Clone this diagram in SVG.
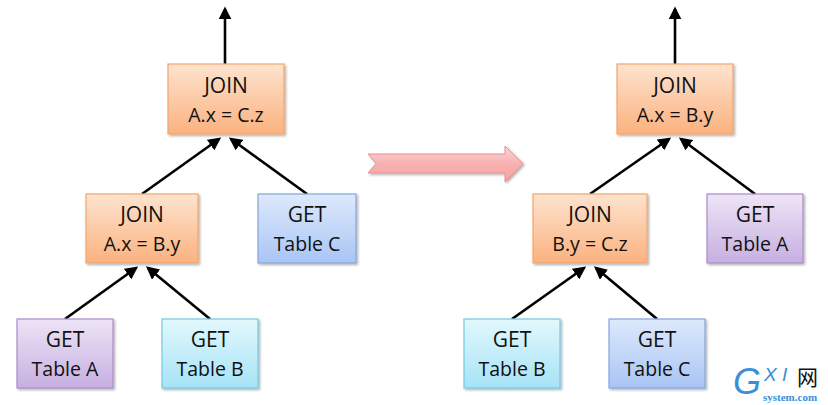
<svg xmlns="http://www.w3.org/2000/svg" width="828" height="405" viewBox="0 0 828 405">
<style>
.box{stroke-width:1.2}
.t{font-family:"Open Sans","Liberation Sans",sans-serif;fill:#111;text-anchor:middle}
.t1{font-size:21px}
.t2{font-size:19.5px}
.c{stroke:#000;stroke-width:2.6;fill:none;marker-end:url(#ah)}
</style>
<defs>
<marker id="ah" markerWidth="5" markerHeight="5" refX="4" refY="2.5" orient="auto" markerUnits="strokeWidth">
<path d="M0,0 L5,2.5 L0,5 z" fill="#000"/>
</marker>
<linearGradient id="gO" x1="0" y1="0" x2="0" y2="1"><stop offset="0" stop-color="#fde3cf"/><stop offset="1" stop-color="#fbb27f"/></linearGradient>
<linearGradient id="gB" x1="0" y1="0" x2="0" y2="1"><stop offset="0" stop-color="#dde9fc"/><stop offset="1" stop-color="#a9c5f5"/></linearGradient>
<linearGradient id="gP" x1="0" y1="0" x2="0" y2="1"><stop offset="0" stop-color="#eee4f6"/><stop offset="1" stop-color="#c6afe2"/></linearGradient>
<linearGradient id="gC" x1="0" y1="0" x2="0" y2="1"><stop offset="0" stop-color="#e2f8fd"/><stop offset="1" stop-color="#a6e3f6"/></linearGradient>
<linearGradient id="gR" x1="0" y1="0" x2="0" y2="1"><stop offset="0" stop-color="#fcd6d6"/><stop offset="0.5" stop-color="#f8b0b0"/><stop offset="1" stop-color="#f7a3a3"/></linearGradient>
<filter id="sh" x="-10%" y="-10%" width="130%" height="130%"><feDropShadow dx="1.5" dy="1.5" stdDeviation="1.2" flood-color="#000" flood-opacity="0.3"/></filter>
</defs>
<rect width="828" height="405" fill="#fff"/>

<g id="connectors">
<line class="c" x1="225" y1="64" x2="225" y2="9"/>
<line class="c" x1="142" y1="194" x2="219" y2="139"/>
<line class="c" x1="307" y1="194" x2="231" y2="139"/>
<line class="c" x1="65" y1="319" x2="136" y2="268"/>
<line class="c" x1="210" y1="319" x2="148" y2="268"/>
<line class="c" x1="675" y1="64" x2="675" y2="9"/>
<line class="c" x1="590" y1="194" x2="669" y2="139"/>
<line class="c" x1="755" y1="194" x2="681" y2="139"/>
<line class="c" x1="512" y1="319" x2="584" y2="268"/>
<line class="c" x1="657" y1="319" x2="596" y2="268"/>
</g>

<g id="transform-arrow">
<path d="M368,154 L505,154 L505,146 L523,163.5 L505,182 L505,173 L368,173 L376,163.5 Z" fill="url(#gR)" stroke="#e89090" stroke-width="1" filter="url(#sh)"/>
</g>

<g id="L-join1">
<rect class="box" x="168" y="64" width="116" height="70" fill="url(#gO)" stroke="#f2a66c" filter="url(#sh)"/>
<text class="t t1" x="226" y="93">JOIN</text>
<text class="t t2" x="226" y="122">A.x = C.z</text>
</g>
<g id="L-join2">
<rect class="box" x="86" y="194" width="112" height="69" fill="url(#gO)" stroke="#f2a66c" filter="url(#sh)"/>
<text class="t t1" x="142" y="222">JOIN</text>
<text class="t t2" x="142" y="251">A.x = B.y</text>
</g>
<g id="L-getC">
<rect class="box" x="258" y="194" width="98" height="69" fill="url(#gB)" stroke="#84a6dc" filter="url(#sh)"/>
<text class="t t1" x="307" y="222">GET</text>
<text class="t t2" x="307" y="251">Table C</text>
</g>
<g id="L-getA">
<rect class="box" x="17" y="319" width="96" height="69" fill="url(#gP)" stroke="#a88cc8" filter="url(#sh)"/>
<text class="t t1" x="65" y="347">GET</text>
<text class="t t2" x="65" y="376">Table A</text>
</g>
<g id="L-getB">
<rect class="box" x="162" y="319" width="96" height="69" fill="url(#gC)" stroke="#76c8e2" filter="url(#sh)"/>
<text class="t t1" x="210" y="347">GET</text>
<text class="t t2" x="210" y="376">Table B</text>
</g>

<g id="R-join1">
<rect class="box" x="617" y="64" width="116" height="70" fill="url(#gO)" stroke="#f2a66c" filter="url(#sh)"/>
<text class="t t1" x="675" y="93">JOIN</text>
<text class="t t2" x="675" y="122">A.x = B.y</text>
</g>
<g id="R-join2">
<rect class="box" x="533" y="194" width="114" height="69" fill="url(#gO)" stroke="#f2a66c" filter="url(#sh)"/>
<text class="t t1" x="590" y="222">JOIN</text>
<text class="t t2" x="590" y="251">B.y = C.z</text>
</g>
<g id="R-getA">
<rect class="box" x="707" y="194" width="96" height="69" fill="url(#gP)" stroke="#a88cc8" filter="url(#sh)"/>
<text class="t t1" x="755" y="222">GET</text>
<text class="t t2" x="755" y="251">Table A</text>
</g>
<g id="R-getB">
<rect class="box" x="464" y="319" width="96" height="69" fill="url(#gC)" stroke="#76c8e2" filter="url(#sh)"/>
<text class="t t1" x="512" y="347">GET</text>
<text class="t t2" x="512" y="376">Table B</text>
</g>
<g id="R-getC">
<rect class="box" x="609" y="319" width="96" height="69" fill="url(#gB)" stroke="#84a6dc" filter="url(#sh)"/>
<text class="t t1" x="657" y="347">GET</text>
<text class="t t2" x="657" y="376">Table C</text>
</g>

<g id="watermark">
<text x="733" y="394" font-family="Liberation Sans,sans-serif" font-style="italic" font-size="36" fill="#3a8fd8">G</text>
<text x="764" y="381" font-family="Liberation Sans,sans-serif" font-style="italic" font-size="19" fill="#3a8fd8">X I</text>
<text x="797" y="385" font-family="Noto Sans CJK SC,sans-serif" font-size="21" fill="#111">网</text>
<text x="763" y="401" font-family="Liberation Serif,serif" font-weight="bold" font-size="11" fill="#3a8fd8">system.com</text>
</g>
</svg>
